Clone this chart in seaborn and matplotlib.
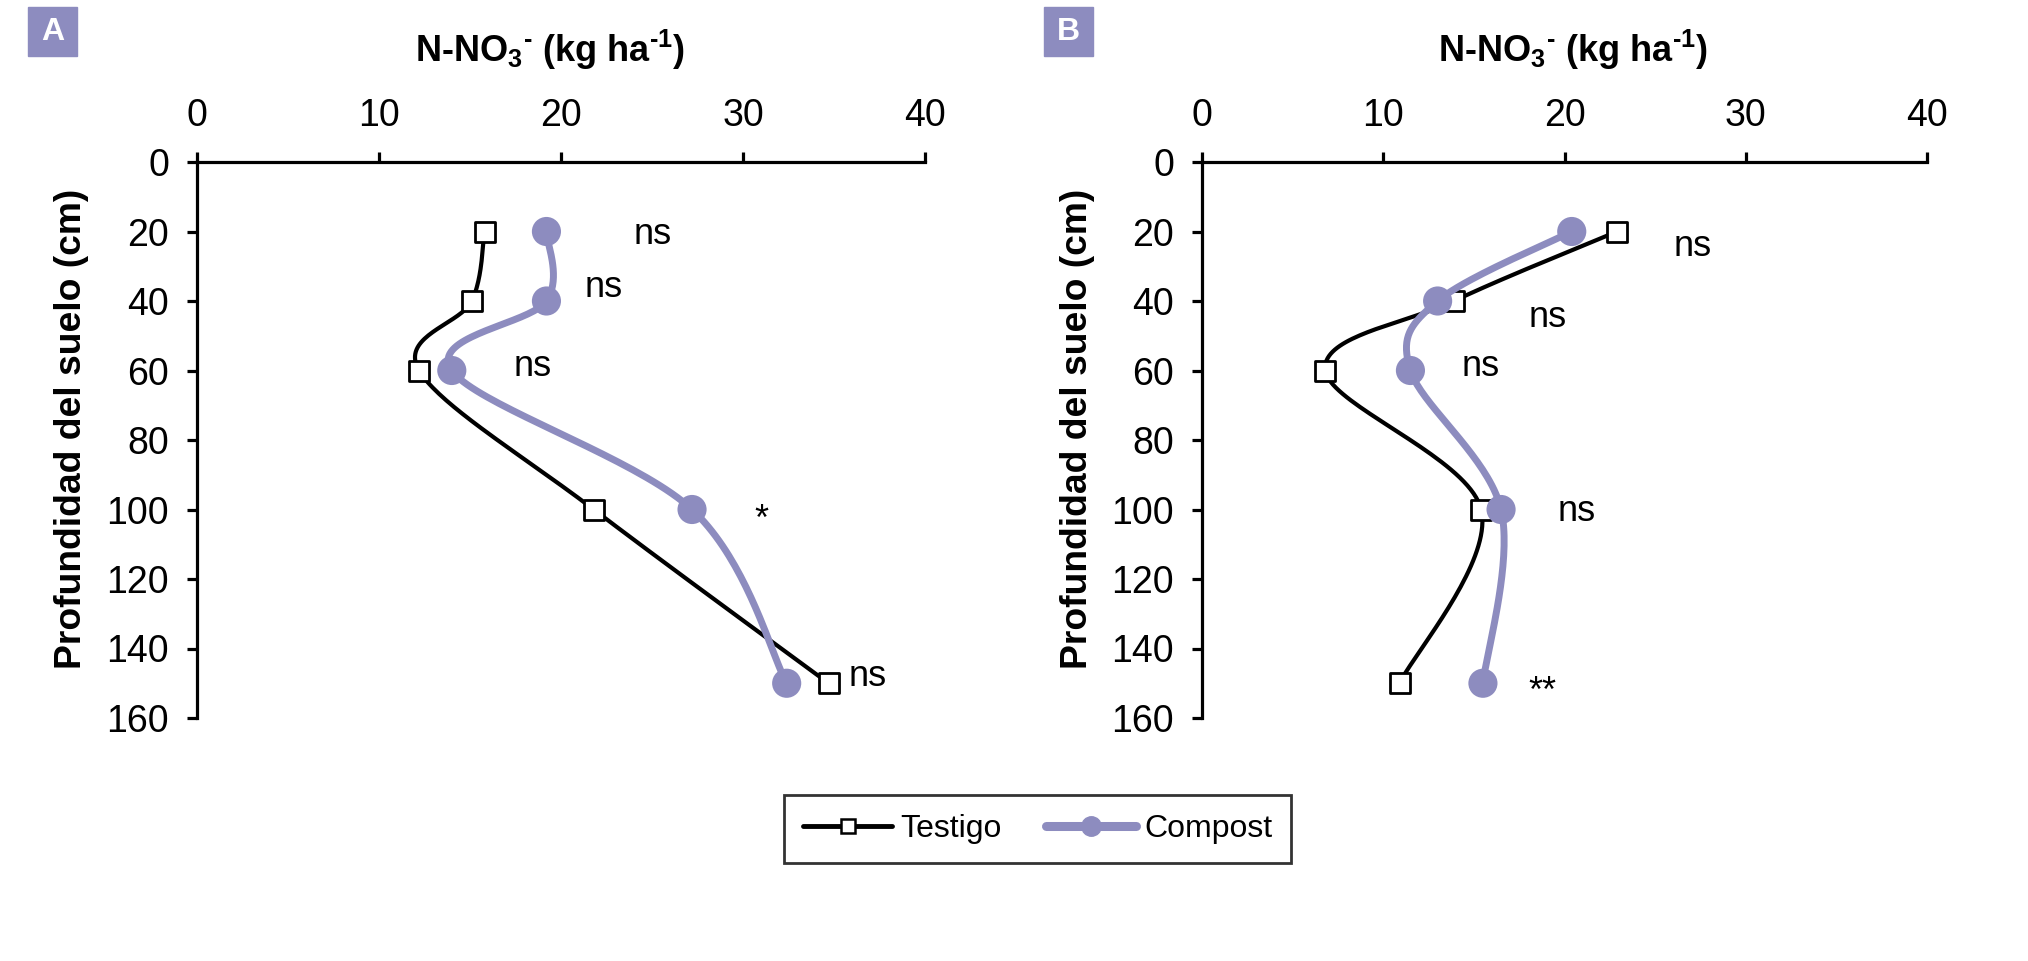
import numpy as np
import pandas as pd
import matplotlib
matplotlib.use("Agg")
import matplotlib.pyplot as plt
from matplotlib.lines import Line2D
from matplotlib.patches import Rectangle
import seaborn as sns

# --- data ---
depth = [20, 40, 60, 100, 150]

testigo_a = [15.8, 15.1, 12.2, 21.8, 34.7]
compost_a = [19.2, 19.2, 14.0, 27.2, 32.4]

testigo_b = [22.9, 13.9, 6.8, 15.4, 10.9]
compost_b = [20.4, 13.0, 11.5, 16.5, 15.5]

# significance labels: (text, x, depth of baseline)
sig_a = [("ns", 24.0, 23.5), ("ns", 21.3, 38.9), ("ns", 17.4, 61.5),
         ("*", 30.6, 106.0), ("ns", 35.8, 150.7)]
sig_b = [("ns", 26.0, 27.0), ("ns", 18.0, 47.6), ("ns", 14.3, 61.5),
         ("ns", 19.6, 103.4), ("**", 18.0, 155.5)]

xticks = [0, 10, 20, 30, 40]
yticks = [0, 20, 40, 60, 80, 100, 120, 140, 160]

PURPLE = "#8D8CBF"

sns.set_theme(style="white")
plt.rcParams["font.family"] = ["Liberation Sans", "DejaVu Sans"]
plt.rcParams["mathtext.default"] = "regular"
plt.rcParams["text.color"] = "black"
plt.rcParams["axes.labelcolor"] = "black"


def smooth(xs, ys, n=40):
    # Excel-like smoothed line (Catmull-Rom as cubic Bezier)
    P = np.column_stack([xs, ys]).astype(float)
    out = []
    for i in range(len(P) - 1):
        p0 = P[max(i - 1, 0)]
        p1 = P[i]
        p2 = P[i + 1]
        p3 = P[min(i + 2, len(P) - 1)]
        c1 = p1 + (p2 - p0) / 6
        c2 = p2 - (p3 - p1) / 6
        t = np.linspace(0, 1, n)[:, None]
        seg = (1 - t) ** 3 * p1 + 3 * (1 - t) ** 2 * t * c1 + 3 * (1 - t) * t ** 2 * c2 + t ** 3 * p2
        out.append(seg if i == 0 else seg[1:])
    s = np.vstack(out)
    return pd.DataFrame({"x": s[:, 0], "y": s[:, 1]})


fig = plt.figure(figsize=(20.28, 9.61), dpi=100)
W, H = 2028, 961
ax_a = fig.add_axes([197 / W, 1 - 718 / H, 728 / W, 556 / H])
ax_b = fig.add_axes([1202 / W, 1 - 718 / H, 725 / W, 556 / H])

# hyphen (U+2010) so the raised signs stay short like in the original
xlabel = "N-NO$_3$$^{\u2010}$ (kg ha$^{\u20101}$)"


def draw_panel(ax, testigo, compost, sigs, label_x):
    st = smooth(testigo, depth)
    sc = smooth(compost, depth)
    sns.lineplot(data=st, x="x", y="y", sort=False, estimator=None, ax=ax,
                 color="black", linewidth=3, zorder=2)
    sns.scatterplot(x=testigo, y=depth, ax=ax, marker="s", s=205, color="white",
                    edgecolor="black", linewidth=2, zorder=3)
    sns.lineplot(data=sc, x="x", y="y", sort=False, estimator=None, ax=ax,
                 color=PURPLE, linewidth=5, zorder=4)
    sns.scatterplot(x=compost, y=depth, ax=ax, marker="o", s=440, color=PURPLE,
                    edgecolor="none", linewidth=0, zorder=5)
    for txt, x, y in sigs:
        ax.text(x, y, txt, fontsize=26, ha="left", va="baseline", color="black")

    ax.set_xlim(0, 40)
    ax.set_ylim(160, 0)
    ax.set_xticks(xticks)
    ax.set_yticks(yticks)
    ax.xaxis.tick_top()
    ax.xaxis.set_label_position("top")
    for side in ["right", "bottom"]:
        ax.spines[side].set_visible(False)
    for side in ["top", "left"]:
        ax.spines[side].set_color("black")
        ax.spines[side].set_linewidth(2.3)
    ax.tick_params(axis="x", which="both", top=True, bottom=False, direction="out",
                   length=7, width=2.3, pad=13, labelsize=27, colors="black")
    ax.tick_params(axis="y", which="both", left=True, direction="out",
                   length=7, width=2.3, pad=13, labelsize=27, colors="black")
    ax.set_xlabel(xlabel, fontsize=26, fontweight="bold", va="baseline", ha="center")
    ax.xaxis.set_label_coords(label_x, 1.18)
    ax.set_ylabel("Profundidad del suelo (cm)", fontsize=26.8, fontweight="bold",
                  va="center", ha="center")
    ax.yaxis.set_label_coords(-0.172, 0.52)
    ax.grid(False)
    ax.set_facecolor("white")


draw_panel(ax_a, testigo_a, compost_a, sig_a, (550 - 197) / 728)
draw_panel(ax_b, testigo_b, compost_b, sig_b, (1573 - 1202) / 725)

# panel letters
for letter, x0 in [("A", 28), ("B", 1044)]:
    fig.patches.append(Rectangle((x0 / W, 1 - 56 / H), 49 / W, 49 / H,
                                 transform=fig.transFigure, color=PURPLE, zorder=1))
    fig.text((x0 + 24.5) / W, 1 - 31.5 / H, letter, color="white", fontsize=23,
             fontweight="bold", ha="center", va="center")

handles = [
    Line2D([], [], color="black", linewidth=3.5, marker="s", markersize=10,
           markerfacecolor="white", markeredgecolor="black", markeredgewidth=1.8),
    Line2D([], [], color=PURPLE, linewidth=6.5, marker="o", markersize=14,
           markerfacecolor=PURPLE, markeredgecolor=PURPLE),
]
leg = fig.legend(handles, ["Testigo", "Compost"], loc="center",
                 bbox_to_anchor=(1037.5 / W, 1 - 829 / H), ncol=2, fontsize=23,
                 frameon=True, fancybox=False, handlelength=2.8, handletextpad=0.25,
                 columnspacing=1.4, borderpad=0.6)
leg.get_frame().set_edgecolor("black")
leg.get_frame().set_linewidth(2)

fig.savefig("out.png", dpi=100, facecolor="white")
